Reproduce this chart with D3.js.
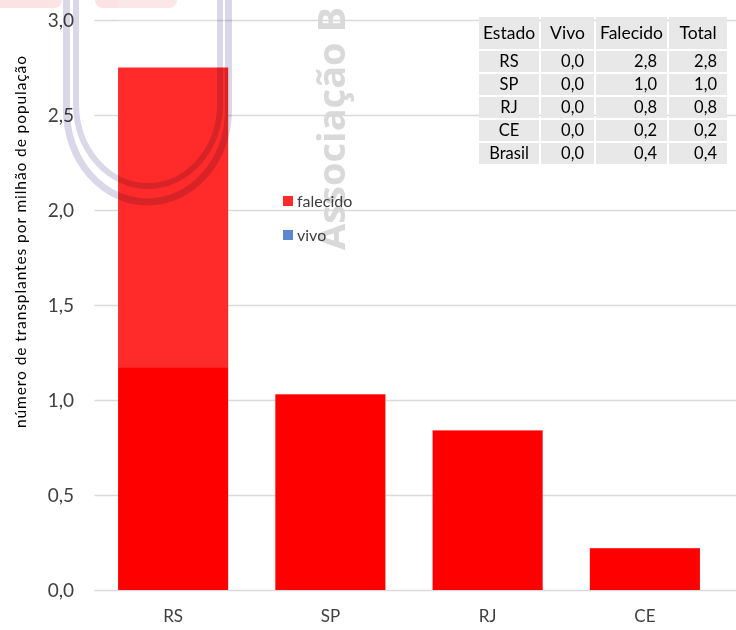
<!DOCTYPE html>
<html><head><meta charset="utf-8">
<script src="https://cdn.jsdelivr.net/npm/d3@7"></script>
<style>
body{margin:0;background:#fff;}
svg{display:block;font-family:Lato,"Open Sans",sans-serif;}
</style></head>
<body><svg id="c" width="736" height="630"></svg>
<script>
const states = ["RS","SP","RJ","CE"];
const vivo = [0,0,0,0];
const falecido = [2.75,1.03,0.84,0.22];
const yTicks = [0,0.5,1,1.5,2,2.5,3];
const tableHeader = ["Estado","Vivo","Falecido","Total"];
const tableStates = ["RS","SP","RJ","CE","Brasil"];
const tableVivo = [0.0,0.0,0.0,0.0,0.0];
const tableFalecido = [2.8,1.0,0.8,0.2,0.4];
const tableTotal = [2.8,1.0,0.8,0.2,0.4];
const legendItems = ["falecido","vivo"];
const yTitle = "número de transplantes por milhão de população";
const watermarkText = "Associação B";

const svg = d3.select("#c");
const fmt = v => d3.format(".1f")(v).replace(".",",");

const x = d3.scaleBand().domain(states).range([94.5,723.5]).paddingInner(0.3).paddingOuter(0.15);
const y = d3.scaleLinear().domain([0,3]).range([590,20]);

// watermark pink blobs at top
const wm = svg.append("g");
wm.append("rect").attr("x",-10).attr("y",-20).attr("width",72).attr("height",28).attr("rx",8).attr("fill","#fbe3e3");
wm.append("rect").attr("x",95).attr("y",-20).attr("width",82).attr("height",28).attr("rx",8).attr("fill","#fbe3e3");

// gridlines
svg.append("g").selectAll("line").data(yTicks).join("line")
  .attr("x1",94.5).attr("x2",736).attr("y1",d=>Math.round(y(d))+0.5).attr("y2",d=>Math.round(y(d))+0.5)
  .attr("stroke","#d9d9d9").attr("stroke-width",1.3);

// y axis labels
const yAxis = d3.axisLeft(y).tickValues(yTicks).tickFormat(fmt).tickSize(0).tickPadding(0);
const ya = svg.append("g").attr("transform","translate(74,0)").call(yAxis);
ya.select(".domain").remove();
ya.selectAll("text").attr("font-size",19).attr("fill","#404040").attr("font-family","Lato,sans-serif");

// x axis labels
const xAxis = d3.axisBottom(x).tickSize(0).tickPadding(0);
const xa = svg.append("g").attr("transform","translate(0,610)").call(xAxis);
xa.select(".domain").remove();
xa.selectAll("text").attr("font-size",17).attr("fill","#404040").attr("dy","0.71em").attr("font-family","Lato,sans-serif");

// stacked bars
const data = states.map((s,i)=>({state:s, vivo:vivo[i], falecido:falecido[i]}));
const stack = d3.stack().keys(["vivo","falecido"])(data);
const colors = {vivo:"#5b87cf", falecido:"#ff0000"};
svg.append("g").selectAll("g").data(stack).join("g").attr("fill",d=>colors[d.key])
  .selectAll("rect").data(d=>d).join("rect")
  .attr("x",d=>x(d.data.state)).attr("width",x.bandwidth())
  .attr("y",d=>y(d[1])).attr("height",d=>y(d[0])-y(d[1]));

// watermark translucent overlay on upper RS bar
svg.append("rect").attr("x",x("RS")).attr("width",x.bandwidth())
  .attr("y",0).attr("height",y(1.17)).attr("fill","#fff").attr("opacity",0.165);

// watermark rings (U-shaped)
const wg = svg.append("g").style("mix-blend-mode","multiply").attr("fill","none").attr("stroke","#d9d7e8");
function ring(cx, rx, yArc, ry, sw){
  wg.append("path").attr("stroke-width",sw)
    .attr("d",`M${cx-rx},-40 L${cx-rx},${yArc} A${rx},${ry} 0 0 0 ${cx+rx},${yArc} L${cx+rx},-40`);
}
ring(147.5, 81, 110, 92, 7);
ring(148, 72, 104, 82, 6);

// watermark text
svg.append("text").attr("transform","translate(345,250) rotate(-90)")
  .attr("font-size",38).attr("font-weight","bold").attr("fill","#d9d9d9").attr("font-family","'Open Sans',sans-serif")
  .text(watermarkText);

// legend
const colorsLegend = {falecido:"#ff2a2a", vivo:"#5b87cf"};
const lg = svg.append("g").selectAll("g").data(legendItems).join("g")
  .attr("transform",(d,i)=>`translate(283,${196+i*34})`);
lg.append("rect").attr("width",10).attr("height",10).attr("fill",d=>colorsLegend[d]);
lg.append("text").attr("x",14).attr("y",5).attr("dy","0.35em").attr("font-size",16).attr("fill","#404040").text(d=>d);

// y title
svg.append("text").attr("transform","translate(26,242) rotate(-90)").attr("text-anchor","middle")
  .attr("font-size",15.5).attr("fill","#000").attr("textLength",372).attr("lengthAdjust","spacing").text(yTitle);

// table
const colX = [479,541,596,669,729];
const rowY = [17,51,74,97,120,143,166];
const tg = svg.append("g");
const rows = [tableHeader].concat(tableStates.map((s,i)=>[s,fmt(tableVivo[i]),fmt(tableFalecido[i]),fmt(tableTotal[i])]));
rows.forEach((r,ri)=>{
  r.forEach((c,ci)=>{
    tg.append("rect").attr("x",colX[ci]).attr("y",rowY[ri]).attr("width",colX[ci+1]-colX[ci]-2).attr("height",rowY[ri+1]-rowY[ri]-2).attr("fill","#e8e8e8");
    const isHeader = ri===0;
    const anchor = (isHeader || ci===0) ? "middle" : "end";
    const tx = anchor==="middle" ? (colX[ci]+colX[ci+1]-2)/2 : colX[ci+1]-12;
    tg.append("text").attr("x",tx).attr("y",(rowY[ri]+rowY[ri+1]-2)/2).attr("dy","0.35em")
      .attr("text-anchor",anchor).attr("font-size",isHeader?17.5:16.5).attr("fill","#000").text(c);
  });
});
</script></body></html>
